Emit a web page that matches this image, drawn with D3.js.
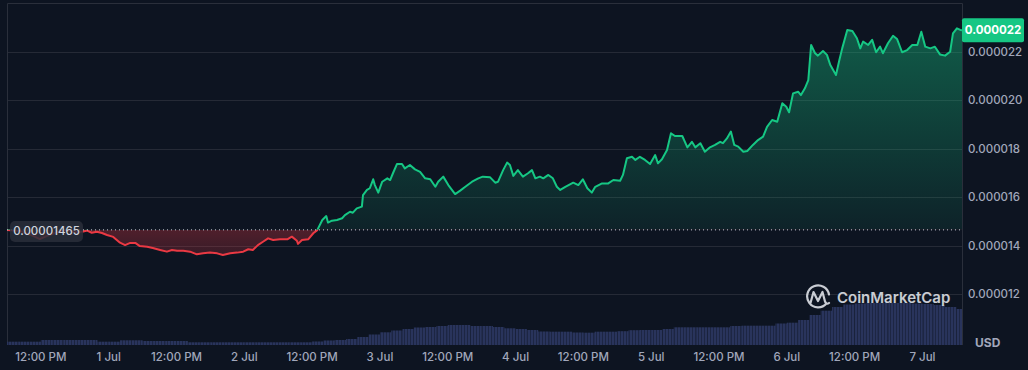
<!DOCTYPE html>
<html>
<head>
<meta charset="utf-8">
<script src="https://cdn.jsdelivr.net/npm/d3@7"></script>
<style>
  html, body { margin: 0; padding: 0; background: #0d1421; }
  svg { display: block; font-family: Inter, "Noto Sans", sans-serif; }
</style>
</head>
<body>
<svg id="chart"></svg>
<script>
// price in micro USD (x 1e-6), time as hours after 30 Jun 06:00
var hours = [
  0, 2.3, 4.6, 5.8, 7.1, 8.5, 10.3, 12.0, 13.3, 14.2,
  15.0, 15.9, 16.8, 17.7, 18.8, 20.0, 20.9, 21.8, 22.7, 23.5,
  24.8, 25.8, 27.1, 28.3, 29.2, 30.1, 31.2, 32.4, 33.6, 34.7,
  35.9, 37.2, 38.2, 39.5, 40.7, 41.8, 42.7, 43.5, 44.4, 45.3,
  46.2, 47.1, 48.3, 49.6, 50.4, 51.3, 51.5, 52.2, 53.3, 54.2,
  54.9, 55.8, 56.5, 56.8, 57.5, 58.4, 59.3, 59.8, 60.7, 61.2,
  61.9, 62.8, 63.0, 63.7, 64.2, 64.8, 65.1, 65.7, 66.4, 67.3,
  67.8, 68.3, 69.0, 69.9, 70.4, 71.3, 72.2, 73.1, 74.0, 74.9,
  75.8, 76.3, 77.2, 78.1, 79.3, 80.2, 81.1, 82.3, 83.4, 84.2,
  85.5, 86.4, 86.9, 87.8, 88.5, 89.0, 89.6, 90.4, 91.3, 92.2,
  92.9, 93.5, 94.3, 94.9, 95.8, 96.6, 97.3, 97.9, 98.8, 100.2,
  101.1, 101.9, 102.7, 103.5, 104.1, 105.3, 106.4, 107.3, 108.5, 109.0,
  109.7, 110.6, 111.2, 112.0, 112.9, 113.8, 114.7, 115.2, 115.9, 116.8,
  117.5, 118.2, 119.5, 120.4, 121.2, 121.8, 122.7, 123.5, 124.4, 125.3,
  126.2, 126.7, 127.4, 128.1, 128.7, 129.4, 130.3, 131.0, 132.0, 132.9,
  133.8, 134.5, 135.4, 136.3, 137.2, 137.9, 138.4, 139.1, 140.0, 140.5,
  141.2, 141.8, 142.3, 143.0, 143.5, 144.4, 145.1, 145.7, 146.2, 146.7,
  147.3, 147.8, 148.7, 149.6, 150.4, 151.0, 151.5, 152.4, 153.1, 153.8,
  154.5, 155.0, 155.9, 156.8, 157.5, 158.4, 159.3, 160.2, 161.1, 161.8,
  162.5, 163.4, 164.2, 165.1, 166.0, 166.9, 167.4, 168.1, 168.7, 169
];
var price = [
  14.64, 14.60, 14.40, 14.27, 14.40, 14.52, 14.64, 14.56, 14.57, 14.62,
  14.53, 14.57, 14.52, 14.44, 14.36, 14.12, 14.02, 14.11, 14.11, 13.98,
  13.95, 13.90, 13.82, 13.75, 13.82, 13.79, 13.79, 13.75, 13.64, 13.68,
  13.71, 13.68, 13.61, 13.68, 13.71, 13.75, 13.85, 13.82, 14.02, 14.16,
  14.30, 14.23, 14.26, 14.26, 14.37, 14.20, 14.07, 14.23, 14.26, 14.51,
  14.64, 15.06, 15.22, 14.95, 15.03, 15.06, 15.13, 15.26, 15.40, 15.36,
  15.54, 15.61, 16.09, 16.30, 16.37, 16.74, 16.50, 16.19, 16.64, 16.78,
  16.71, 16.99, 17.37, 17.37, 17.19, 17.33, 17.15, 17.05, 16.78, 16.74,
  16.43, 16.64, 16.85, 16.50, 16.13, 16.27, 16.43, 16.64, 16.78, 16.85,
  16.82, 16.60, 16.64, 17.12, 17.43, 17.33, 16.88, 17.12, 16.85, 16.99,
  17.12, 16.78, 16.85, 16.78, 16.92, 16.78, 16.43, 16.30, 16.43, 16.60,
  16.50, 16.74, 16.37, 16.19, 16.43, 16.57, 16.57, 16.71, 16.68, 16.92,
  17.61, 17.67, 17.54, 17.67, 17.54, 17.37, 17.74, 17.40, 17.57, 17.95,
  18.64, 18.53, 18.53, 18.06, 18.29, 18.06, 18.23, 17.88, 18.06, 18.16,
  18.29, 18.23, 18.43, 18.71, 18.16, 18.09, 17.88, 17.91, 18.16, 18.36,
  18.50, 18.91, 19.19, 19.12, 19.88, 19.74, 19.51, 20.29, 20.36, 20.22,
  20.50, 20.84, 22.29, 21.95, 21.85, 22.04, 21.88, 21.46, 21.26, 21.05,
  21.67, 22.15, 22.91, 22.87, 22.57, 22.15, 22.43, 22.29, 22.50, 21.99,
  22.22, 21.95, 22.36, 22.67, 22.54, 21.99, 22.08, 22.29, 22.29, 22.84,
  22.22, 22.15, 22.22, 21.90, 21.85, 22.01, 22.77, 22.98, 22.91, 22.90
];
// volume, one value per 2 hours (relative units)
var volume = [
  3.3, 3.3, 3.3, 5, 5, 5, 5, 5, 3.3, 3.3,
  4.7, 4.7, 4, 4, 4, 4, 2.7, 2.7, 2.7, 2.7,
  2.7, 2.7, 2.7, 2.7, 2.7, 2.7, 2.7, 3.5, 4.5, 5,
  6, 8, 10.5, 12.7, 14.5, 16, 17.5, 18, 19, 20,
  20, 19, 19, 18, 16.7, 16, 15, 13.5, 13.3, 13.3,
  12.5, 12.3, 13.3, 13.3, 13.8, 14.8, 15, 15, 16, 17.7,
  17.7, 17.7, 17.7, 17.7, 19, 19.3, 19.3, 19.3, 21.5, 22.3,
  25, 30, 34.3, 38, 40.5, 41.5, 42, 42, 42, 42,
  41.5, 41, 40, 38, 36
];
var priceTicks = [12, 14, 16, 18, 20, 22];
var openPrice = 14.65;

var w = 1028;
var h = 370;
var padL = 7, padR = 962, padT = 3, padB = 345;

var start = new Date(2023, 5, 30, 6, 0);
var end = d3.timeHour.offset(start, 169);

var data = hours.map(function(d, i) {
  return { date: new Date(start.getTime() + d * 3600000), p: price[i] };
});

var xScale = d3.scaleTime().domain([start, end]).range([padL, padR]);
var yScale = d3.scaleLinear().domain([12, 22]).range([294, 52]);
var vScale = d3.scaleLinear().domain([0, 50]).range([padB, padB - 50]);

var svg = d3.select("#chart").attr("width", w).attr("height", h);
var defs = svg.append("defs");

var yb = yScale(openPrice);

defs.append("clipPath").attr("id", "plotClip")
  .append("rect").attr("x", padL).attr("y", padT).attr("width", padR - padL).attr("height", padB - padT);
defs.append("clipPath").attr("id", "upClip")
  .append("rect").attr("x", padL).attr("y", padT).attr("width", padR - padL).attr("height", yb - padT);
defs.append("clipPath").attr("id", "downClip")
  .append("rect").attr("x", padL).attr("y", yb).attr("width", padR - padL).attr("height", padB - yb);

var grad = defs.append("linearGradient").attr("id", "greenFill")
  .attr("gradientUnits", "userSpaceOnUse")
  .attr("x1", 0).attr("x2", 0).attr("y1", yScale(23)).attr("y2", yb);
grad.append("stop").attr("offset", "0%").attr("stop-color", "#16c784").attr("stop-opacity", 0.4);
grad.append("stop").attr("offset", "100%").attr("stop-color", "#16c784").attr("stop-opacity", 0.08);

var redGrad = defs.append("linearGradient").attr("id", "redFill")
  .attr("gradientUnits", "userSpaceOnUse")
  .attr("x1", 0).attr("x2", 0).attr("y1", yb).attr("y2", yScale(13.5));
redGrad.append("stop").attr("offset", "0%").attr("stop-color", "#ea3943").attr("stop-opacity", 0.3);
redGrad.append("stop").attr("offset", "100%").attr("stop-color", "#ea3943").attr("stop-opacity", 0.18);

// striped fill for the volume bars
var stripes = defs.append("pattern").attr("id", "volStripes")
  .attr("patternUnits", "userSpaceOnUse")
  .attr("width", 3).attr("height", 10);
stripes.append("rect").attr("x", 0).attr("y", 0).attr("width", 2).attr("height", 10)
  .attr("fill", "#29345c");
stripes.append("rect").attr("x", 2).attr("y", 0).attr("width", 1).attr("height", 10)
  .attr("fill", "#1d2643");

// Grid
svg.append("g").selectAll("line")
  .data(priceTicks)
  .enter()
  .append("line")
  .attr("x1", padL).attr("x2", padR)
  .attr("y1", function(d) { return Math.round(yScale(d)) + 0.5; })
  .attr("y2", function(d) { return Math.round(yScale(d)) + 0.5; })
  .attr("stroke", "#252a36");

// Frame
svg.append("path")
  .attr("d", "M" + (padL + 0.5) + "," + padB + "V" + (padT + 0.5) + "H" + (padR + 0.5) + "V" + padB)
  .attr("fill", "none")
  .attr("stroke", "#2a2f3b");

// Volume bars
var plot = svg.append("g").attr("clip-path", "url(#plotClip)");
plot.append("g").selectAll("rect")
  .data(volume)
  .enter()
  .append("rect")
  .attr("x", function(d, i) { return xScale(d3.timeHour.offset(start, i * 2)); })
  .attr("width", function(d, i) {
    return xScale(d3.timeHour.offset(start, i * 2 + 2)) - xScale(d3.timeHour.offset(start, i * 2));
  })
  .attr("y", function(d) { return vScale(d); })
  .attr("height", function(d) { return padB - vScale(d); })
  .attr("fill", "url(#volStripes)");

// Areas
var area = d3.area()
  .x(function(d) { return xScale(d.date); })
  .y0(yb)
  .y1(function(d) { return yScale(d.p); });
var line = d3.line()
  .x(function(d) { return xScale(d.date); })
  .y(function(d) { return yScale(d.p); });

plot.append("path").datum(data)
  .attr("clip-path", "url(#upClip)")
  .attr("d", area)
  .attr("fill", "url(#greenFill)");
plot.append("path").datum(data)
  .attr("clip-path", "url(#downClip)")
  .attr("d", area)
  .attr("fill", "url(#redFill)");

// baseline
svg.append("line")
  .attr("x1", padL).attr("x2", padR)
  .attr("y1", yb).attr("y2", yb)
  .attr("stroke", "#c9ced8")
  .attr("stroke-width", 1)
  .attr("stroke-dasharray", "1,3");

plot.append("path").datum(data)
  .attr("clip-path", "url(#upClip)")
  .attr("d", line)
  .attr("fill", "none")
  .attr("stroke", "#16c784")
  .attr("stroke-width", 2)
  .attr("stroke-linejoin", "round");
plot.append("path").datum(data)
  .attr("clip-path", "url(#downClip)")
  .attr("d", line)
  .attr("fill", "none")
  .attr("stroke", "#ea3943")
  .attr("stroke-width", 2)
  .attr("stroke-linejoin", "round");

// Right axis labels
svg.append("g").selectAll("text")
  .data(priceTicks)
  .enter()
  .append("text")
  .attr("x", 968)
  .attr("y", function(d) { return yScale(d); })
  .attr("dy", "0.35em")
  .attr("font-size", "11.5px")
  .attr("font-weight", 500)
  .attr("fill", "#a1a7bb")
  .text(function(d) { return d3.format(".6f")(d * 1e-6); });

// Bottom axis labels
var fmtDay = d3.timeFormat("%-d %b");
var fmtHour = d3.timeFormat("%I:%M %p");
svg.append("g").selectAll("text")
  .data(xScale.ticks(d3.timeHour.every(12)))
  .enter()
  .append("text")
  .attr("x", function(d) { return xScale(d); })
  .attr("y", 357)
  .attr("dy", "0.35em")
  .attr("text-anchor", "middle")
  .attr("font-size", "11.5px")
  .attr("font-weight", 500)
  .attr("fill", "#a1a7bb")
  .text(function(d) { return d.getHours() === 0 ? fmtDay(d) : fmtHour(d); });

svg.append("text")
  .attr("x", 975).attr("y", 343)
  .attr("dy", "0.35em")
  .attr("font-size", "12px")
  .attr("font-weight", 700)
  .attr("fill", "#a1a7bb")
  .text("USD");

// open price label
svg.append("rect")
  .attr("x", 10).attr("y", 221).attr("width", 73).attr("height", 21).attr("rx", 5)
  .attr("fill", "#2a2e3a").attr("fill-opacity", 0.85);
svg.append("text")
  .attr("x", 46.5).attr("y", yb + 1)
  .attr("dy", "0.35em")
  .attr("text-anchor", "middle")
  .attr("font-size", "11.5px")
  .attr("font-weight", 500)
  .attr("fill", "#cfd4de")
  .text(d3.format(".8f")(openPrice * 1e-6));

// last price label
var last = data[data.length - 1];
var ly = yScale(last.p);
svg.append("rect")
  .attr("x", 962).attr("y", ly - 12).attr("width", 62).attr("height", 24).attr("rx", 2)
  .attr("fill", "#16c784");
svg.append("text")
  .attr("x", 993).attr("y", ly)
  .attr("dy", "0.35em")
  .attr("text-anchor", "middle")
  .attr("font-size", "11.5px")
  .attr("font-weight", 700)
  .attr("fill", "#ffffff")
  .text((Math.floor(last.p) * 1e-6).toFixed(6));

// watermark
var logo = svg.append("g").attr("opacity", 0.88);
logo.append("path")
  .attr("d", "M826.5,303.5 A11,11 0 1 1 829,294.5 M810.5,303 L813.5,292 L818,301 L822.5,292 L825,301.5 Q826.5,305 829,303")
  .attr("fill", "none")
  .attr("stroke", "#e3e6ec")
  .attr("stroke-width", 2.2)
  .attr("stroke-linecap", "round")
  .attr("stroke-linejoin", "round");
logo.append("text")
  .attr("x", 837).attr("y", 298)
  .attr("dy", "0.35em")
  .attr("font-size", "15px")
  .attr("font-weight", 600)
  .attr("fill", "#e3e6ec")
  .text("CoinMarketCap");
</script>
</body>
</html>
